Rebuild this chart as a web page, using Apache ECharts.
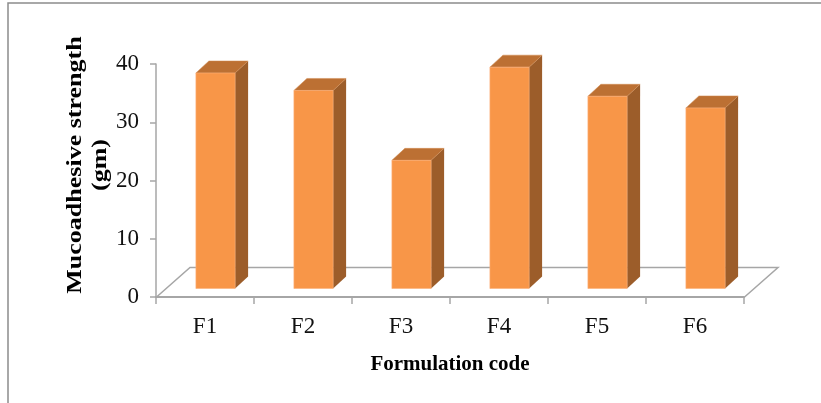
<!DOCTYPE html>
<html><head><meta charset="utf-8">
<style>html,body{margin:0;padding:0;background:#fff}#c{width:821px;height:403px}</style>
<script src="https://cdn.jsdelivr.net/npm/echarts@6/dist/echarts.min.js"></script></head>
<body><div id="c"></div>
<script>
const categories = ['F1','F2','F3','F4','F5','F6'];
const strength = [37,34,22,38,33,31];
const yTicks = {min:0,max:40,interval:10};
const yTitle = 'Mucoadhesive strength\n(gm)';
const xTitle = 'Formulation code';

const GRID = {left:156,right:77,top:64,bottom:106};
const DX = 13, DY = 12;          // bar depth
const FDX = 34, FDY = 30;        // floor depth
const BASE = 8.5, SHIFT = 10.5;  // bar lift and shift on the floor
const FONT = '"Liberation Serif","Times New Roman",serif';
const chart = echarts.init(document.getElementById('c'),null,{renderer:'canvas'});

function renderBar(params, api){
  const top = api.coord([api.value(0), api.value(1)]);
  const bot = api.coord([api.value(0), 0]);
  const w = api.size([1,0])[0]*0.4;
  const x0 = top[0]-w/2+SHIFT, x1 = x0+w, yb = bot[1]-BASE, yt = top[1]-BASE;
  return {type:'group',children:[
    {type:'polygon',shape:{points:[[x1,yb],[x1+DX,yb-DY],[x1+DX,yt-DY],[x1,yt]]},style:{fill:'#9C5D2A'}},
    {type:'polygon',shape:{points:[[x0,yt],[x0+DX,yt-DY],[x1+DX,yt-DY],[x1,yt]]},style:{fill:'#BC7033',stroke:'#D08A50',lineWidth:0.5}},
    {type:'rect',shape:{x:x0,y:yt,width:w,height:yb-yt},style:{fill:'#F89648',stroke:'#FBB07A',lineWidth:0.6}}
  ]};
}
function renderFloor(params, api){
  const a = api.coord([0,0]);
  const left = params.coordSys.x, right = left+params.coordSys.width, y = a[1]+0.5;
  return {type:'polyline',shape:{points:[[left,y],[left+FDX,y-FDY],[right+FDX,y-FDY],[right,y]]},
    style:{fill:'none',stroke:'#A6A6A6',lineWidth:1.5},silent:true,z2:0};
}
chart.setOption({
  animation:false,backgroundColor:'#fff',
  grid:GRID,
  graphic:[
    {type:'polyline',shape:{points:[[8,403],[8,3],[821,3]]},style:{fill:'none',stroke:'#8C8C8C',lineWidth:1.5},z:0},
    {type:'text',x:88,y:165,rotation:Math.PI/2,scaleX:1.3,z:5,
      style:{text:yTitle,font:'bold 20px '+FONT,fill:'#000',align:'center',verticalAlign:'middle',lineHeight:25}}
  ],
  xAxis:{type:'category',data:categories,
    name:xTitle,nameLocation:'middle',nameGap:57,
    nameTextStyle:{fontFamily:FONT,fontWeight:'bold',fontSize:21,color:'#000'},
    axisLine:{lineStyle:{color:'#A6A6A6',width:2}},
    axisTick:{show:true,length:7,lineStyle:{color:'#A6A6A6',width:1.5}},
    axisLabel:{fontFamily:FONT,fontSize:23,color:'#111',margin:18},
    splitLine:{show:false}},
  yAxis:{type:'value',min:yTicks.min,max:yTicks.max,interval:yTicks.interval,
    axisLine:{show:true,lineStyle:{color:'#A6A6A6',width:1.5}},
    axisTick:{show:true,length:6,lineStyle:{color:'#A6A6A6',width:1.5}},
    axisLabel:{fontFamily:FONT,fontSize:23,color:'#111',margin:17},
    splitLine:{show:false}},
  series:[
    {type:'custom',renderItem:renderFloor,data:[[0,0]],silent:true,clip:false,z:1,encode:{x:0,y:1}},
    {type:'custom',renderItem:renderBar,data:categories.map((c,i)=>[i,strength[i]]),clip:false,z:2,encode:{x:0,y:1}}
  ]
});
</script></body></html>
